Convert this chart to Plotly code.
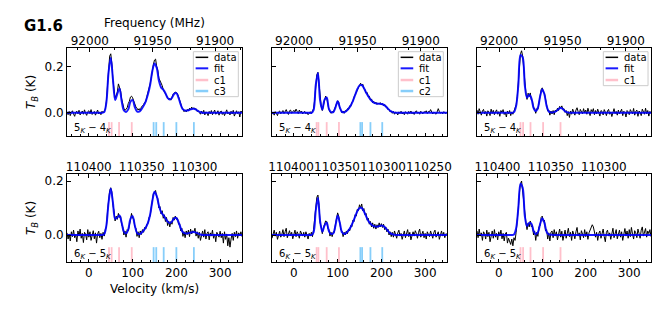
import numpy as np
import plotly.graph_objects as go

# ---------------- velocity grids ----------------
V_DATA = np.arange(-50.0, 350.0 + 1e-6, 2.5)   # 161 channels
V_FIT = np.arange(-50.0, 350.0 + 1e-6, 5.0)    # 81 samples

# ---------------- spectra: 5_K - 4_K (top row) ----------------
data_a_54 = [
    0.004, -0.008, 0.006, -0.012, 0.002, 0.009, -0.005, -0.015, 0.003, 0.007,
    -0.004, 0.011, -0.009, 0.001, 0.008, -0.006, 0.013, -0.002, -0.011, 0.005,
    0.009, -0.003, 0.014, -0.007, 0.002, 0.006, -0.010, 0.004, 0.012, -0.005,
    0.003, -0.008, 0.007, 0.000, 0.010, 0.016, 0.050, 0.115, 0.185, 0.245,
    0.255, 0.215, 0.140, 0.100, 0.065, 0.075, 0.090, 0.125, 0.110, 0.095,
    0.060, 0.030, 0.020, 0.010, 0.015, 0.022, 0.040, 0.050, 0.068, 0.072,
    0.065, 0.050, 0.035, 0.025, 0.020, 0.012, 0.018, 0.010, 0.025, 0.030,
    0.035, 0.045, 0.048, 0.070, 0.085, 0.105, 0.125, 0.150, 0.190, 0.210,
    0.228, 0.232, 0.200, 0.185, 0.150, 0.140, 0.125, 0.118, 0.100, 0.090,
    0.078, 0.070, 0.065, 0.058, 0.062, 0.055, 0.070, 0.080, 0.085, 0.090,
    0.088, 0.082, 0.070, 0.048, 0.040, 0.022, 0.018, 0.005, 0.012, 0.004,
    0.015, 0.008, 0.020, 0.012, 0.025, 0.016, 0.022, 0.015, 0.018, 0.006,
    0.010, 0.002, -0.006, 0.008, -0.003, 0.011, -0.009, 0.004, 0.000, -0.012,
    0.006, -0.004, 0.010, -0.008, 0.003, 0.012, -0.006, -0.002, 0.009, -0.010,
    0.004, 0.008, -0.007, 0.002, -0.012, 0.006, 0.013, -0.004, 0.001, -0.009,
    0.007, -0.005, 0.011, -0.014, 0.003, 0.009, -0.003, 0.005, -0.018, 0.008,
    0.002,
]
fit_a_54 = [
    0, 0, 0, 0, 0, 0, 0, 0, 0, 0,
    0, 0, 0, 0, 0, 0, 0, 0.003, 0.045, 0.175,
    0.238, 0.145, 0.055, 0.082, 0.105, 0.050, 0.010, 0.004, 0.015, 0.048,
    0.055, 0.025, 0.006, 0.005, 0.015, 0.030, 0.050, 0.080, 0.120, 0.180,
    0.213, 0.195, 0.140, 0.110, 0.100, 0.085, 0.065, 0.058, 0.065, 0.082,
    0.085, 0.065, 0.035, 0.015, 0.010, 0.010, 0.013, 0.017, 0.018, 0.014,
    0.007, 0.003, 0, 0, 0, 0, 0, 0, 0, 0,
    0, 0, 0, 0, 0, 0, 0, 0, 0, 0,
    0,
]

data_b_54 = [
    -0.006, 0.003, -0.010, 0.005, -0.002, -0.012, 0.004, 0.008, -0.004, 0.002,
    0.010, -0.003, 0.006, 0.014, 0.002, -0.007, 0.009, 0.012, -0.002, 0.005,
    0.011, 0.004, 0.016, 0.006, -0.003, 0.012, 0.002, 0.008, -0.005, 0.003,
    0.006, -0.004, 0.002, -0.008, 0.001, 0.005, -0.003, 0.006, 0.018, 0.055,
    0.125, 0.165, 0.175, 0.118, 0.048, 0.028, 0.010, 0.035, 0.060, 0.072,
    0.064, 0.038, 0.015, 0.004, -0.002, 0.006, 0.002, 0.014, 0.028, 0.045,
    0.052, 0.046, 0.020, 0.012, 0.000, 0.008, -0.002, 0.010, 0.006, 0.018,
    0.014, 0.030, 0.028, 0.045, 0.050, 0.068, 0.078, 0.092, 0.098, 0.115,
    0.120, 0.128, 0.118, 0.124, 0.105, 0.100, 0.085, 0.088, 0.070, 0.072,
    0.055, 0.060, 0.044, 0.050, 0.040, 0.046, 0.036, 0.042, 0.038, 0.044,
    0.034, 0.040, 0.030, 0.036, 0.025, 0.026, 0.014, 0.016, 0.004, 0.008,
    -0.002, 0.006, -0.006, 0.003, 0.000, -0.009, 0.004, -0.003, 0.007, -0.005,
    0.002, -0.008, 0.005, 0.000, -0.006, 0.006, -0.003, 0.008, -0.004, 0.001,
    -0.007, 0.004, 0.009, -0.002, 0.003, -0.006, 0.007, 0.000, -0.004, 0.005,
    0.002, 0.009, -0.003, 0.006, 0.004, 0.014, 0.002, -0.005, 0.003, 0.000,
    -0.006, 0.004, 0.018, 0.006, -0.002, 0.003, -0.004, 0.005, 0.000, -0.003,
    0.002,
]
fit_b_54 = [
    0, 0, 0, 0, 0, 0, 0, 0, 0, 0,
    0, 0, 0, 0, 0, 0, 0, 0, 0, 0.012,
    0.120, 0.172, 0.053, 0.014, 0.056, 0.066, 0.017, 0.003, 0.003, 0.023,
    0.050, 0.024, 0.004, 0.003, 0.008, 0.018, 0.032, 0.052, 0.077, 0.102,
    0.118, 0.120, 0.107, 0.088, 0.072, 0.058, 0.048, 0.042, 0.040, 0.039,
    0.038, 0.035, 0.028, 0.018, 0.009, 0.004, 0.001, 0, 0, 0,
    0, 0, 0, 0, 0, 0, 0, 0, 0, 0,
    0, 0, 0, 0, 0, 0, 0, 0, 0, 0,
    0,
]

data_c_54 = [
    0.012, -0.006, 0.018, 0.004, -0.010, 0.008, 0.015, -0.004, 0.006, -0.014,
    0.009, 0.002, -0.012, 0.016, -0.003, 0.011, -0.008, 0.004, 0.013, -0.006,
    0.005, -0.015, 0.010, 0.002, 0.014, -0.007, 0.003, -0.018, 0.008, -0.004,
    0.010, -0.012, 0.004, -0.006, 0.008, 0.014, 0.035, 0.070, 0.128, 0.200,
    0.255, 0.268, 0.245, 0.190, 0.110, 0.085, 0.058, 0.085, 0.070, 0.086,
    0.055, 0.050, 0.018, 0.020, -0.002, 0.018, 0.015, 0.050, 0.062, 0.100,
    0.108, 0.090, 0.085, 0.050, 0.035, 0.008, 0.012, -0.010, 0.008, -0.005,
    0.010, -0.008, 0.012, 0.004, 0.020, 0.010, 0.028, 0.022, 0.030, 0.014,
    0.018, 0.002, 0.010, -0.012, 0.005, -0.020, 0.008, -0.006, 0.016, 0.003,
    -0.010, 0.012, 0.022, 0.005, -0.008, 0.015, 0.006, -0.004, 0.018, 0.000,
    0.012, -0.006, 0.020, 0.008, -0.012, 0.014, 0.004, 0.018, -0.008, 0.010,
    -0.004, 0.016, 0.002, -0.014, 0.010, 0.006, -0.009, 0.014, 0.003, -0.012,
    0.008, 0.015, -0.006, 0.004, -0.016, 0.010, 0.018, -0.003, 0.006, -0.010,
    0.012, -0.005, 0.003, 0.016, -0.012, 0.007, 0.002, -0.018, 0.010, 0.004,
    -0.008, 0.014, 0.005, -0.004, 0.019, -0.010, 0.006, 0.012, -0.015, 0.008,
    0.003, -0.012, 0.016, 0.004, -0.006, 0.020, -0.004, 0.010, -0.014, 0.006,
    -0.003,
]
fit_c_54 = [
    0, 0, 0, 0, 0, 0, 0, 0, 0, 0,
    0, 0, 0, 0, 0, 0, 0, 0.003, 0.030, 0.120,
    0.250, 0.240, 0.118, 0.066, 0.078, 0.063, 0.022, 0.008, 0.022, 0.070,
    0.102, 0.080, 0.030, 0.006, 0.002, 0.002, 0.005, 0.012, 0.020, 0.020,
    0.011, 0.004, 0.001, 0, 0, 0, 0, 0, 0, 0,
    0, 0, 0, 0, 0, 0, 0, 0, 0, 0,
    0, 0, 0, 0, 0, 0, 0, 0, 0, 0,
    0, 0, 0, 0, 0, 0, 0, 0, 0, 0,
    0,
]

# ---------------- spectra: 6_K - 5_K (bottom row) ----------------
data_a_65 = [
    0.008, -0.015, 0.004, -0.022, 0.012, -0.006, 0.018, -0.010, 0.002, -0.025,
    0.015, -0.004, 0.022, -0.012, 0.006, -0.028, 0.010, 0.003, -0.018, 0.020,
    -0.008, 0.012, -0.020, 0.005, 0.016, -0.014, 0.008, -0.030, 0.004, 0.014,
    -0.010, 0.006, -0.016, 0.010, -0.004, 0.020, 0.030, 0.085, 0.125, 0.165,
    0.175, 0.160, 0.110, 0.090, 0.052, 0.070, 0.058, 0.080, 0.065, 0.070,
    0.038, 0.030, 0.000, 0.015, -0.008, 0.020, 0.015, 0.045, 0.055, 0.080,
    0.062, 0.060, 0.030, 0.025, -0.005, 0.012, -0.010, 0.015, 0.002, 0.020,
    0.010, 0.028, 0.022, 0.040, 0.042, 0.065, 0.070, 0.100, 0.130, 0.155,
    0.155, 0.165, 0.140, 0.135, 0.100, 0.105, 0.078, 0.090, 0.062, 0.075,
    0.050, 0.065, 0.035, 0.052, 0.030, 0.050, 0.040, 0.065, 0.055, 0.070,
    0.058, 0.062, 0.040, 0.042, 0.015, 0.025, -0.005, 0.012, -0.010, 0.015,
    0.002, 0.018, -0.006, 0.022, 0.004, 0.016, 0.010, 0.025, -0.004, 0.012,
    -0.012, 0.010, -0.020, 0.004, 0.015, -0.008, 0.020, -0.015, 0.006, 0.012,
    -0.018, 0.008, -0.004, 0.018, -0.012, 0.004, -0.025, 0.010, 0.002, -0.008,
    0.014, -0.010, 0.006, -0.030, 0.012, -0.016, 0.004, -0.040, -0.010, -0.045,
    -0.015, 0.006, -0.020, 0.010, -0.006, 0.015, -0.012, 0.008, -0.002, 0.012,
    -0.006,
]
fit_a_65 = [
    0, 0, 0, 0, 0, 0, 0, 0, 0, 0,
    0, 0, 0, 0, 0, 0, 0, 0.003, 0.035, 0.120,
    0.172, 0.120, 0.060, 0.065, 0.072, 0.045, 0.012, 0.006, 0.020, 0.060,
    0.070, 0.035, 0.008, 0.003, 0.008, 0.016, 0.028, 0.045, 0.075, 0.125,
    0.160, 0.145, 0.110, 0.085, 0.074, 0.062, 0.050, 0.044, 0.050, 0.062,
    0.063, 0.048, 0.025, 0.010, 0.006, 0.006, 0.008, 0.010, 0.011, 0.009,
    0.005, 0.002, 0, 0, 0, 0, 0, 0, 0, 0,
    0, 0, 0, 0, 0, 0, 0, 0, 0, 0,
    0,
]

data_b_65 = [
    -0.012, 0.006, 0.018, -0.004, 0.010, -0.016, 0.004, 0.014, -0.008, 0.002,
    0.020, -0.006, 0.012, 0.025, -0.010, 0.006, 0.016, -0.002, 0.010, -0.014,
    0.008, 0.018, -0.006, 0.012, 0.003, -0.012, 0.015, 0.006, -0.004, 0.010,
    -0.008, 0.012, 0.002, -0.015, 0.006, -0.004, 0.010, -0.006, 0.020, 0.050,
    0.100, 0.140, 0.148, 0.110, 0.045, 0.030, 0.005, 0.025, 0.040, 0.052,
    0.050, 0.025, 0.020, -0.004, 0.010, -0.006, 0.012, 0.010, 0.040, 0.060,
    0.082, 0.070, 0.050, 0.018, 0.015, -0.006, 0.010, 0.000, 0.015, 0.005,
    0.022, 0.015, 0.035, 0.030, 0.055, 0.050, 0.075, 0.070, 0.095, 0.090,
    0.112, 0.100, 0.115, 0.090, 0.098, 0.075, 0.080, 0.055, 0.062, 0.040,
    0.050, 0.030, 0.045, 0.025, 0.040, 0.022, 0.038, 0.028, 0.045, 0.030,
    0.042, 0.028, 0.040, 0.020, 0.030, 0.012, 0.022, 0.000, 0.012, -0.006,
    0.010, -0.008, 0.015, 0.004, -0.012, 0.008, 0.018, -0.004, 0.006, -0.016,
    0.004, 0.015, -0.010, 0.008, 0.020, -0.006, 0.010, -0.018, 0.005, 0.012,
    -0.004, 0.016, 0.006, -0.012, 0.010, 0.022, -0.008, 0.004, 0.014, -0.010,
    0.006, -0.015, 0.012, 0.002, -0.006, 0.015, 0.004, -0.012, 0.010, 0.018,
    -0.008, 0.004, 0.012, -0.016, 0.006, 0.015, -0.004, 0.010, -0.010, 0.005,
    0.002,
]
fit_b_65 = [
    0, 0, 0, 0, 0, 0, 0, 0, 0, 0,
    0, 0, 0, 0, 0, 0, 0, 0, 0, 0.010,
    0.090, 0.138, 0.050, 0.012, 0.035, 0.046, 0.015, 0.004, 0.006, 0.035,
    0.072, 0.045, 0.010, 0.004, 0.008, 0.017, 0.030, 0.048, 0.068, 0.088,
    0.100, 0.100, 0.088, 0.070, 0.053, 0.042, 0.035, 0.032, 0.031, 0.033,
    0.035, 0.033, 0.025, 0.015, 0.007, 0.003, 0.001, 0, 0, 0,
    0, 0, 0, 0, 0, 0, 0, 0, 0, 0,
    0, 0, 0, 0, 0, 0, 0, 0, 0, 0,
    0,
]

data_c_65 = [
    0.015, -0.010, 0.022, -0.004, 0.008, -0.020, 0.012, 0.005, -0.015, 0.018,
    -0.006, 0.010, -0.025, 0.004, 0.015, -0.012, 0.020, -0.008, 0.006, -0.018,
    0.012, -0.004, 0.018, -0.014, 0.006, -0.022, 0.004, 0.010, -0.030, -0.012,
    -0.025, -0.035, -0.015, -0.040, -0.010, -0.020, 0.010, 0.045, 0.100, 0.155,
    0.190, 0.200, 0.160, 0.120, 0.060, 0.045, 0.020, 0.045, 0.030, 0.052,
    0.030, 0.035, 0.000, 0.015, -0.020, 0.010, -0.005, 0.030, 0.035, 0.065,
    0.070, 0.050, 0.055, 0.015, 0.020, -0.015, 0.008, -0.022, 0.010, 0.015,
    -0.010, 0.020, -0.004, 0.012, -0.018, 0.006, 0.022, -0.008, 0.014, -0.020,
    0.008, 0.018, -0.012, 0.004, 0.025, -0.006, 0.010, -0.020, 0.015, 0.003,
    -0.014, 0.012, 0.028, -0.004, 0.008, -0.018, 0.016, 0.004, -0.010, 0.020,
    -0.006, 0.012, -0.016, 0.008, 0.018, 0.035, 0.038, 0.030, 0.012, -0.008,
    0.010, -0.020, 0.006, 0.015, -0.012, 0.004, 0.022, -0.006, -0.025, 0.010,
    0.018, -0.004, 0.008, -0.016, 0.012, 0.025, -0.010, 0.004, 0.020, -0.014,
    0.006, 0.018, -0.008, 0.012, -0.020, 0.010, 0.024, -0.004, 0.015, -0.012,
    0.020, -0.006, 0.028, 0.004, -0.015, 0.016, 0.008, -0.010, 0.022, 0.006,
    -0.012, 0.018, 0.030, -0.004, 0.012, 0.024, -0.008, 0.015, 0.005, 0.020,
    -0.006,
]
fit_c_65 = [
    0, 0, 0, 0, 0, 0, 0, 0, 0, 0,
    0, 0, 0, 0, 0, 0, 0, 0.002, 0.025, 0.100,
    0.190, 0.175, 0.070, 0.033, 0.045, 0.042, 0.015, 0.003, 0.010, 0.040,
    0.062, 0.045, 0.012, 0.002, 0.001, 0, 0, 0, 0, 0,
    0, 0, 0, 0, 0, 0, 0, 0, 0, 0,
    0, 0, 0, 0, 0, 0, 0, 0, 0, 0,
    0, 0, 0, 0, 0, 0, 0, 0, 0, 0,
    0, 0, 0, 0, 0, 0, 0, 0, 0, 0,
    0,
]

# ---------------- velocity components (km/s) ----------------
c1_a = [46, 52, 69, 98]
c3_a = [148, 154, 171, 200, 240]
c1_b = [52, 56, 75, 103]
c2_b = [152, 156, 175, 202]
c1_c = [50, 56, 73, 102, 142]

# tick-label texts / titles
SOURCE = "G1.6"
TRANS_54 = "5<sub><i>K</i></sub> − 4<sub><i>K</i></sub>"
TRANS_65 = "6<sub><i>K</i></sub> − 5<sub><i>K</i></sub>"

for arr in [data_a_54, data_b_54, data_c_54, data_a_65, data_b_65, data_c_65]:
    assert len(arr) == len(V_DATA), len(arr)
for arr in [fit_a_54, fit_b_54, fit_c_54, fit_a_65, fit_b_65, fit_c_65]:
    assert len(arr) == len(V_FIT), len(arr)

PINK = "pink"
LBLUE = "lightskyblue"
FITC = "rgba(0,0,255,0.9)"
FONT = "DejaVu Sans"

panels = [
    dict(data=data_a_54, fit=fit_a_54, comps=[("c1", c1_a, PINK), ("c3", c3_a, LBLUE)],
         trans=TRANS_54, frange=[92018.2, 91878.6], row=0, col=0),
    dict(data=data_b_54, fit=fit_b_54, comps=[("c1", c1_b, PINK), ("c2", c2_b, LBLUE)],
         trans=TRANS_54, frange=[92017.5, 91879.3], row=0, col=1),
    dict(data=data_c_54, fit=fit_c_54, comps=[("c1", c1_c, PINK)],
         trans=TRANS_54, frange=[92017.5, 91880.1], row=0, col=2),
    dict(data=data_a_65, fit=fit_a_65, comps=[("c1", c1_a, PINK), ("c3", c3_a, LBLUE)],
         trans=TRANS_65, frange=[110420.6, 110255.1], row=1, col=0),
    dict(data=data_b_65, fit=fit_b_65, comps=[("c1", c1_b, PINK), ("c2", c2_b, LBLUE)],
         trans=TRANS_65, frange=[110420.7, 110230.4], row=1, col=1),
    dict(data=data_c_65, fit=fit_c_65, comps=[("c1", c1_c, PINK)],
         trans=TRANS_65, frange=[110419.3, 110255.6], row=1, col=2),
]

W, H = 664, 310
XDOM = [(67 / W, 242 / W), (272 / W, 447 / W), (477 / W, 651 / W)]
YDOM = [(1 - 136 / H, 1 - 48 / H), (1 - 262 / H, 1 - 174 / H)]
YRANGE = [[-0.1, 0.28], [-0.1, 0.226]]
MARK_TOP = [-0.04, -0.045]

fig = go.Figure()
layout = dict(
    width=W, height=H, margin=dict(l=0, r=0, t=0, b=0, autoexpand=False),
    paper_bgcolor="white", plot_bgcolor="white", showlegend=False,
    font=dict(family=FONT, color="black", size=12),
)
annotations = []
shapes = []

for k, p in enumerate(panels, start=1):
    xs = "x" if k == 1 else f"x{k}"
    ys = "y" if k == 1 else f"y{k}"
    fx = f"x{k + 6}"
    r, c = p["row"], p["col"]

    # component markers
    for name, vals, col in p["comps"]:
        lx, ly = [], []
        for v in vals:
            lx += [v, v, None]
            ly += [YRANGE[r][0], MARK_TOP[r], None]
        fig.add_trace(go.Scatter(x=lx, y=ly, mode="lines", line=dict(color=col, width=1.8),
                                 xaxis=xs, yaxis=ys, hoverinfo="skip", name=name))
    fig.add_trace(go.Scatter(x=V_DATA, y=p["data"], mode="lines", line=dict(color="black", width=1),
                             xaxis=xs, yaxis=ys, name="data"))
    fig.add_trace(go.Scatter(x=V_FIT, y=p["fit"], mode="lines",
                             line=dict(color=FITC, width=2, shape="spline", smoothing=0.9),
                             xaxis=xs, yaxis=ys, name="fit"))
    fig.add_trace(go.Scatter(x=[], y=[], xaxis=fx, yaxis=ys, showlegend=False, hoverinfo="skip"))

    layout["xaxis" if k == 1 else f"xaxis{k}"] = dict(
        domain=list(XDOM[c]), range=[-50, 350], anchor=ys, showgrid=False, zeroline=False,
        showline=True, mirror=True, linecolor="black", linewidth=1, automargin=False,
        ticks="inside", ticklen=3.5, tickcolor="black", dtick=100, tick0=0, tickangle=0,
        minor=dict(ticks="inside", ticklen=2, dtick=20, tick0=0, tickcolor="black"),
        showticklabels=(r == 1), tickfont=dict(size=12),
    )
    layout["yaxis" if k == 1 else f"yaxis{k}"] = dict(
        domain=list(YDOM[r]), range=YRANGE[r], anchor=xs, showgrid=False, zeroline=False,
        showline=True, mirror=True, linecolor="black", linewidth=1, automargin=False,
        ticks="inside", ticklen=3.5, tickcolor="black", tickvals=[0.0, 0.2],
        tickformat=".1f", showticklabels=(c == 0), tickfont=dict(size=12),
    )
    layout[f"xaxis{k + 6}"] = dict(
        overlaying=xs, anchor=ys, side="top", range=p["frange"], showgrid=False, zeroline=False,
        showline=False, automargin=False, tickangle=0,
        ticks="inside", ticklen=3.5, tickcolor="black", dtick=50, tick0=0,
        tickformat="d", minor=dict(ticks="inside", ticklen=2, dtick=10, tick0=0, tickcolor="black"),
        tickfont=dict(size=12),
    )

    xd = "x domain" if k == 1 else f"x{k} domain"
    yd = "y domain" if k == 1 else f"y{k} domain"
    annotations.append(dict(xref=xd, yref=yd, x=0.027, y=0.085, xanchor="left", yanchor="middle",
                            text=p["trans"], showarrow=False, font=dict(size=10)))

    # legend (top row only)
    if r == 0:
        entries = [("data", "black", 1.5), ("fit", FITC, 2)]
        entries += [(name, col, 2.5) for name, _, col in p["comps"]]
        rows = [0.894, 0.769, 0.636, 0.511][: len(entries)]
        off = 0.004 if c == 2 else 0.0
        bx0, bx1 = 0.722 + off, 0.979 + off
        by0 = rows[-1] - 0.064
        shapes.append(dict(type="rect", xref=xd, yref=yd, x0=bx0, x1=bx1, y0=by0, y1=0.958,
                           line=dict(color="#cccccc", width=1), fillcolor="rgba(255,255,255,0.85)",
                           layer="above"))
        for (lab, col, wdt), yy in zip(entries, rows):
            shapes.append(dict(type="line", xref=xd, yref=yd, x0=0.735 + off, x1=0.807 + off, y0=yy, y1=yy,
                               line=dict(color=col, width=wdt), layer="above"))
            annotations.append(dict(xref=xd, yref=yd, x=0.827 + off, y=yy, xanchor="left", yanchor="middle",
                                    text=lab, showarrow=False, font=dict(size=10)))

# global titles
annotations += [
    dict(xref="paper", yref="paper", x=22 / W, y=1 - 25.5 / H, xanchor="left", yanchor="middle",
         text=f"<b>{SOURCE}</b>", showarrow=False, font=dict(size=15)),
    dict(xref="paper", yref="paper", x=154.5 / W, y=1 - 23.3 / H, xanchor="center", yanchor="middle",
         text="Frequency (MHz)", showarrow=False, font=dict(size=12)),
    dict(xref="paper", yref="paper", x=154.5 / W, y=1 - 289 / H, xanchor="center", yanchor="middle",
         text="Velocity (km/s)", showarrow=False, font=dict(size=12)),
    dict(xref="paper", yref="paper", x=32 / W, y=1 - 92 / H, xanchor="center", yanchor="middle",
         text="<i>T</i><sub><i>B</i></sub> (K)", textangle=-90, showarrow=False, font=dict(size=12)),
    dict(xref="paper", yref="paper", x=32 / W, y=1 - 218 / H, xanchor="center", yanchor="middle",
         text="<i>T</i><sub><i>B</i></sub> (K)", textangle=-90, showarrow=False, font=dict(size=12)),
]

layout["annotations"] = annotations
layout["shapes"] = shapes
fig.update_layout(**layout)
fig.write_html("out.html", config={"displayModeBar": False},
               post_script="document.body.style.margin='0';")
